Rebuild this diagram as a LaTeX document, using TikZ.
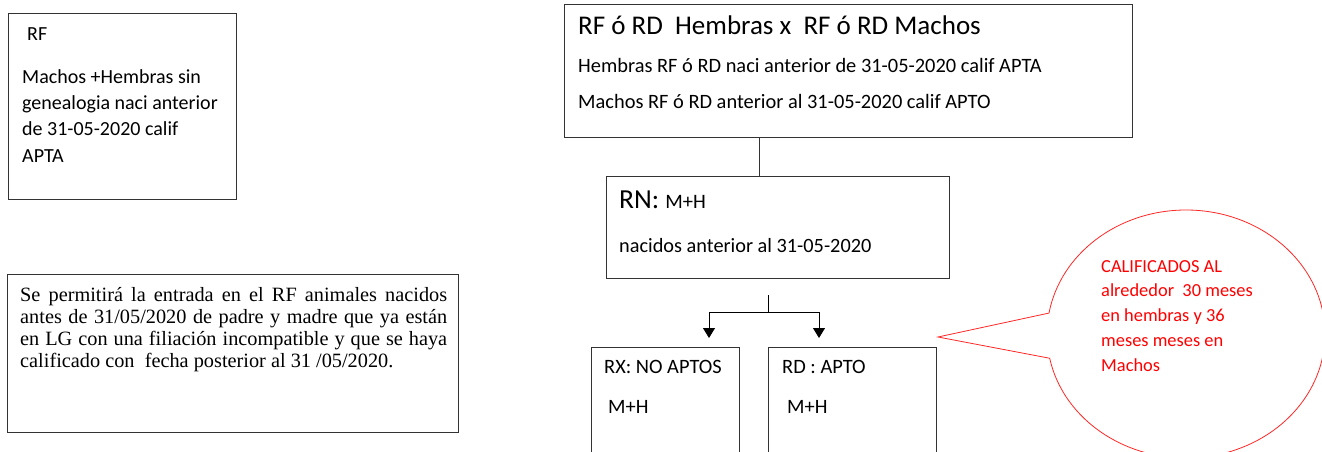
\documentclass[tikz,border=0pt]{standalone}
\usepackage{fontspec}
\setmainfont{Carlito}
\newfontfamily\serifont{Liberation Serif}
\usetikzlibrary{shapes.callouts,arrows.meta}

\begin{document}
\begin{tikzpicture}[x=1pt,y=-1pt,
	caja/.style={draw=black!80,line width=0.9pt,inner sep=0pt,anchor=north west},
	txt/.style={inner sep=0pt,anchor=base west,align=left},
	flecha/.style={-{Triangle[width=12pt,length=10pt]},line width=0.9pt}]
	\useasboundingbox (0,0) rectangle (1322,452);
	\node[caja,minimum width=228pt,minimum height=186pt] (rf) at (8,13) {};
	\node[caja,minimum width=451pt,minimum height=158pt] (permite) at (7,274) {};
	\node[caja,minimum width=568pt,minimum height=133pt] (cruce) at (564,4) {};
	\node[caja,minimum width=343pt,minimum height=102pt] (rn) at (606,176) {};
	\node[caja,minimum width=148pt,minimum height=125pt] (rx) at (591,347) {};
	\node[caja,minimum width=168pt,minimum height=125pt] (rd) at (768,347) {};
	\node[txt,font=\fontsize{20}{26.3}\selectfont] (rftit) at (27,41) {RF};
	\node[txt,font=\fontsize{20}{26.3}\selectfont] (rftxt) at (22,162)
		{Machos +Hembras sin\\genealogia naci anterior\\de 31-05-2020 calif\\APTA};
	\node[txt,text width=427pt,align=justify,font=\serifont\fontsize{20.3}{22.3}\selectfont] (permtxt) at (20,301)
		{Se permitirá la entrada en el RF animales nacidos\linebreak
		antes de 31/05/2020 de padre y madre que ya están\linebreak
		en LG con una filiación incompatible y que se haya\linebreak
		calificado con \ fecha posterior al 31 /05/2020.};
	\node[txt,font=\fontsize{27}{30}\selectfont] (crucetit) at (578,35) {RF ó RD\ \ Hembras x\ \ RF ó RD Machos};
	\node[txt,font=\fontsize{20.4}{24}\selectfont] (hembras) at (578,72) {Hembras RF ó RD naci anterior de 31-05-2020 calif APTA};
	\node[txt,font=\fontsize{20.4}{24}\selectfont] (machos) at (578,108) {Machos RF ó RD anterior al 31-05-2020 calif APTO};
	\node[txt,font=\fontsize{27.5}{30}\selectfont] (rntit) at (619,208) {RN: {\fontsize{20.5}{24}\selectfont M+H}};
	\node[txt,font=\fontsize{20.3}{24}\selectfont] (rntxt) at (619,252) {nacidos anterior al 31-05-2020};
	\node[txt,font=\fontsize{20.4}{24}\selectfont] (rxtit) at (604,373) {RX: NO APTOS};
	\node[txt,font=\fontsize{20.4}{24}\selectfont] (rxmh) at (608,413) {M+H};
	\node[txt,font=\fontsize{20.4}{24}\selectfont] (rdtit) at (782,373) {RD : APTO};
	\node[txt,font=\fontsize{20.4}{24}\selectfont] (rdmh) at (787,413) {M+H};
	\coordinate (enlace) at (759,0);
	\draw[draw=black!80,line width=0.9pt] (enlace |- cruce.south) -- (enlace |- rn.north);
	\coordinate (forkA) at (768,295);
	\coordinate (forkB) at (768,312);
	\coordinate (puntaX) at (709,338);
	\coordinate (puntaD) at (819,338);
	\draw[line width=0.9pt] (forkA) -- (forkB);
	\draw[flecha] (forkB) -| (puntaX);
	\draw[flecha] (forkB) -| (puntaD);
	\coordinate (punta) at (938,337);
	\node[ellipse callout,draw=red!85,line width=0.8pt,minimum width=278pt,minimum height=248pt,
		callout absolute pointer={(punta)},callout pointer arc=21] (nota) at (1186,334) {};
	\node[txt,text=red,font=\fontsize{18.4}{24.75}\selectfont] (notatxt) at (1101,371)
		{CALIFICADOS AL\\alrededor\ \ 30 meses\\en hembras y 36\\meses meses en\\Machos};
\end{tikzpicture}
\end{document}
